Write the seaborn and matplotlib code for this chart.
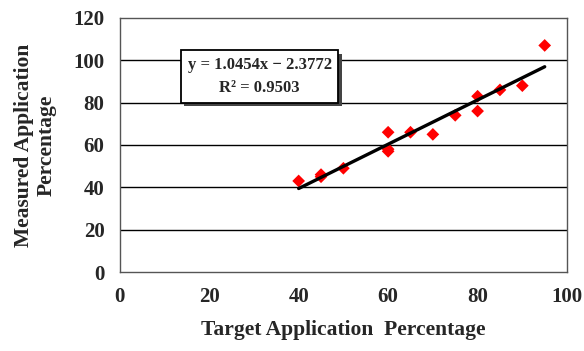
import numpy as np
import pandas as pd
import matplotlib
matplotlib.use("Agg")
import matplotlib.pyplot as plt
import matplotlib.patheffects as pe
import seaborn as sns

# values
target = [40, 45, 45, 50, 60, 60, 60, 65, 70, 75, 80, 80, 85, 90, 95]
measured = [43, 46, 45, 49, 66, 58, 57, 66, 65, 74, 83, 76, 86, 88, 107]
slope = 1.0454
intercept = -2.3772
r2 = 0.9503

df = pd.DataFrame({"Target": target, "Measured": measured})

sns.set_style("white")
plt.rcParams['font.family'] = ['Liberation Serif', 'DejaVu Serif']
plt.rcParams['font.weight'] = 'bold'

fig = plt.figure(figsize=(5.84, 3.51), dpi=100)
ax = fig.add_axes([0.205, 0.225, 0.766, 0.724])

for yv in [20, 40, 60, 80, 100]:
    ax.axhline(yv, color='black', lw=1.0, zorder=1)

sns.scatterplot(data=df, x="Target", y="Measured", marker='D', color='#ff0000',
                s=42, edgecolor='none', ax=ax, zorder=3)

xl = np.array([min(target), max(target)])
sns.lineplot(x=xl, y=slope * xl + intercept, color='black', lw=2.4, ax=ax, zorder=4)

ax.set_xlim(0, 100)
ax.set_ylim(0, 120)
ax.set_xticks(range(0, 101, 20))
ax.set_yticks(range(0, 121, 20))
ax.tick_params(axis='both', direction='out', length=4, width=1, color='#888888',
               labelsize=15, pad=7)
for lab in ax.get_xticklabels() + ax.get_yticklabels():
    lab.set_fontweight('bold')
for sp in ax.spines.values():
    sp.set_color('#555555')
    sp.set_linewidth(1)

ax.set_xlabel("Target Application  Percentage", fontsize=15.5, fontweight='bold', labelpad=9)
ax.set_ylabel("Measured Application\nPercentage", fontsize=15.5, fontweight='bold', labelpad=12,
              linespacing=1.2)

eq = ax.text(0.313, 0.77, f"y = {slope}x − {abs(intercept)}\nR² = {r2}", transform=ax.transAxes,
             ha='center', va='center', fontsize=12, fontweight='bold', linespacing=1.6,
             bbox=dict(boxstyle='square,pad=0.4', facecolor='white', edgecolor='black', lw=1.3),
             zorder=6)
# drop shadow on the equation box
eq.get_bbox_patch().set_path_effects([
    pe.SimplePatchShadow(offset=(2.5, -2.5), shadow_rgbFace='#444444', alpha=1.0),
    pe.Normal()])

fig.savefig("out.png", dpi=100)
